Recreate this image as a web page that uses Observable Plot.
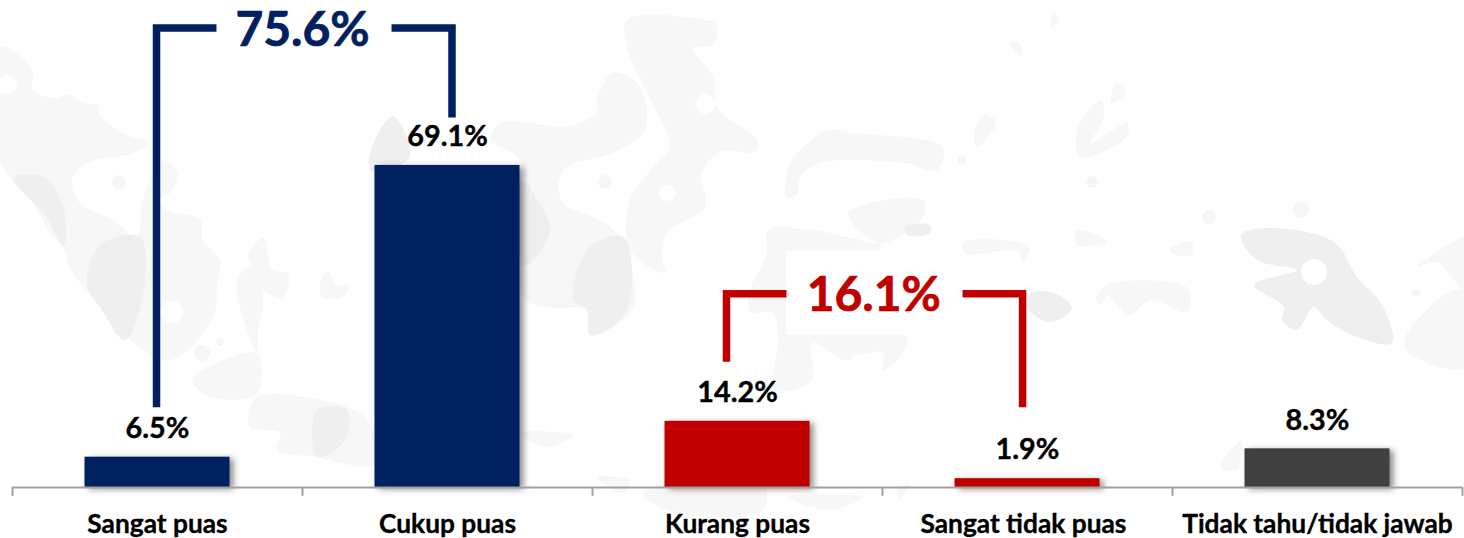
<!DOCTYPE html>
<html><head><meta charset="utf-8">
<script src="https://cdn.jsdelivr.net/npm/d3@7"></script>
<script src="https://cdn.jsdelivr.net/npm/@observablehq/plot@0.6"></script>
<style>html,body{margin:0;background:#fff}#c{position:relative;width:1464px;height:538px;overflow:hidden}
#c svg{position:absolute;left:0;top:0}</style>
</head><body><div id="c"></div>
<script>
const categories=["Sangat puas","Cukup puas","Kurang puas","Sangat tidak puas","Tidak tahu/tidak jawab"];
const values=[6.5,69.1,14.2,1.9,8.3];
const colors=["#002060","#002060","#C00000","#C00000","#404040"];
const groupLabels=["75.6%","16.1%"];
const groupColors=["#002060","#C00000"];
const rows=categories.map((c,i)=>({c,i,v:values[i],color:colors[i]}));
const font="Lato, sans-serif";

// faint decorative backdrop (map silhouette), approximated by eye; not chart data
const light=[
[[0,47],[32,70],[33,90],[53,98],[70,95],[83,103],[98,105],[100,115],[127,135],[148,142],[133,153],[87,163],[72,180],[80,203],[113,220],[137,237],[143,200],[163,160],[177,173],[173,190],[160,200],[167,210],[200,220],[203,240],[220,260],[217,283],[213,317],[170,360],[120,330],[117,320],[100,307],[87,290],[72,273],[63,247],[50,233],[33,203],[7,173],[0,160]],
[[192,380],[257,353],[257,393],[210,397]],
[[257,397],[360,413],[373,433],[373,465],[317,457],[277,450],[280,433],[250,427]],
[[238,277],[250,267],[263,297],[258,333],[257,352],[238,300]],
[[247,257],[263,238],[273,270],[288,273],[283,297],[263,290],[250,263]],
[[322,277],[328,272],[337,285],[349,285],[343,297],[322,297]],
[[627,20],[693,18],[717,25],[712,45],[693,48],[713,77],[717,107],[757,140],[755,152],[720,152],[702,173],[705,207],[667,233],[662,257],[665,273],[630,250],[630,200],[655,165],[670,147],[647,93],[627,47]],
[[490,140],[500,123],[533,123],[563,127],[597,113],[597,100],[613,73],[637,83],[647,110],[643,133],[613,153],[567,167],[558,183],[565,205],[600,220],[620,237],[632,270],[632,310],[590,335],[587,310],[552,308],[523,297],[520,160]],
[[768,230],[813,230],[873,243],[880,243],[850,360],[812,343],[812,380],[775,390],[778,340],[773,313],[750,312],[750,290],[767,253]],
[[787,197],[790,163],[808,143],[827,130],[853,133],[943,147],[937,170],[903,163],[820,163],[800,177],[797,195]],
[[848,213],[923,200],[923,217],[880,243]],
[[852,325],[905,328],[903,353],[883,370],[883,353],[853,353]],
[[1077,230],[1107,242],[1077,245]],
[[964,242],[1029,247],[1022,262],[1019,252],[964,253]],
[[1171,248],[1192,242],[1191,255],[1172,253]],
[[1096,300],[1107,285],[1187,288],[1187,312],[1151,300],[1129,315],[1107,295],[1101,305]],
[[1081,157],[1077,130],[1101,100],[1104,117],[1091,143],[1127,123],[1127,137]],
[[1111,103],[1117,83],[1127,93]],
[[974,133],[984,115],[996,122],[977,147]],
[[1051,28],[1054,12],[1059,20]],
[[1009,43],[1019,42],[1022,57]],
[[597,477],[630,480],[623,493]],
[[643,493],[760,477],[763,510],[667,510]],
[[787,497],[863,497],[830,510]],
[[897,490],[910,483],[900,498]],
[[520,433],[573,435],[547,447]],
[[1221,467],[1241,440],[1237,470]],
[[1404,347],[1437,300],[1464,290],[1464,368]],
[[1417,267],[1451,243],[1464,238],[1464,290],[1437,262]]
];
const dark=[
[[13,178],[45,178],[64,210],[64,247],[45,215]],
[[87,285],[100,245],[140,237],[145,280],[125,340],[100,307]],
[[317,410],[347,410],[345,440],[317,457]],
[[520,180],[550,230],[523,267]],
[[573,300],[590,247],[623,237],[632,277],[623,317],[590,335],[587,310]],
[[371,171],[371,150],[393,116],[410,157]],
[[1241,235],[1271,228],[1334,242],[1357,277],[1381,303],[1392,343],[1357,337],[1327,320],[1314,307],[1297,330],[1282,320],[1284,307],[1254,285],[1297,270],[1257,260]],
[[1029,310],[1031,293],[1054,293],[1072,308],[1051,322]],
[[905,227],[930,225],[930,233],[907,235]]
];
const holes=[[172,312,11],[7,85,10],[705,104,10],[667,193,8],[1314,272,13]];
const dots=[[119,182,7],[202,353,8],[220,342,4],[605,182,7],[962,160,4],[1092,182,6],[1209,217,7],[1301,210,8],[1416,293,4]];
const host=document.getElementById("c");
const bg=d3.select(host).append("svg").attr("width",1464).attr("height",538);
const smooth=d3.line().curve(d3.curveCatmullRomClosed.alpha(.5));
light.forEach(p=>bg.append("path").attr("d",smooth(p)).attr("fill","#f7f7f7"));
dark.forEach(p=>bg.append("path").attr("d",smooth(p)).attr("fill","#efefef"));
holes.forEach(([x,y,r])=>bg.append("circle").attr("cx",x).attr("cy",y).attr("r",r).attr("fill","#fff"));
dots.forEach(([x,y,r])=>bg.append("circle").attr("cx",x).attr("cy",y).attr("r",r).attr("fill","#f6f6f6"));

// bracket paths on the chart's own scales: x in category bands, y in percent
const bracketLeftTop=[{x:.4966,y:17.2},{x:.4966,y:98.6},{x:.7034,y:98.6}];
const bracketLeftEnd=[{x:1.307,y:98.6},{x:1.5155,y:98.6},{x:1.5155,y:79.4}];
const bracketRedA=[{x:2.462,y:27},{x:2.462,y:41.6},{x:2.669,y:41.6}];
const bracketRedB=[{x:3.276,y:41.6},{x:3.483,y:41.6},{x:3.483,y:17.2}];
const groupPos=[{x:1,y:98,t:groupLabels[0],c:groupColors[0]},{x:2.97,y:41.2,t:groupLabels[1],c:groupColors[1]}];
const bracket=(d,c)=>Plot.line(d,{x:"x",y:"y",stroke:c,strokeWidth:7.5});
const labelTicks=[.5,1.5,2.5,3.486,4.5];

const chart=Plot.plot({width:1464,height:538,marginLeft:12,marginRight:2,marginTop:0,marginBottom:51,
 style:{background:"transparent",fontFamily:font},
 x:{domain:[0,5]},y:{domain:[0,104.5],axis:null},
 marks:[
  Plot.rect([{}],{x1:()=>2.669,x2:()=>3.276,y1:()=>32.6,y2:()=>50.6,fill:"#fff"}),
  Plot.rectY(rows,{x1:d=>d.i+.25,x2:d=>d.i+.75,y:"v",fill:"color"}),
  Plot.ruleY([0],{stroke:"#a0a0a0",strokeWidth:2}),
  Plot.ruleX([0,1,2,3,4,5],{x:d=>d,y1:0,y2:-1.9,stroke:"#a0a0a0",strokeWidth:2}),
  bracket(bracketLeftTop,groupColors[0]),bracket(bracketLeftEnd,groupColors[0]),
  bracket(bracketRedA,groupColors[1]),bracket(bracketRedB,groupColors[1]),
  Plot.text(rows,{x:d=>d.i+.5,y:"v",text:d=>d.v.toFixed(1)+"%",dy:-28.5,fontSize:28.8,fontWeight:700,fill:"#000",stroke:"#000",strokeWidth:.4}),
  Plot.text(groupPos,{x:"x",y:"y",text:"t",fill:"c",stroke:"c",strokeWidth:.7,fontSize:48,fontWeight:700}),
  Plot.axisX({ticks:labelTicks,tickFormat:d=>categories[labelTicks.indexOf(d)],tickSize:0,tickPadding:27,label:null,fontSize:26.3,fontWeight:700,fill:"#000"})
 ]});
const root=d3.select(chart);
root.selectAll('g[aria-label="rect"]').filter((d,i)=>i===1).style("filter","drop-shadow(4px 2px 3px rgba(0,0,0,.45))");
root.selectAll('g[aria-label="line"], g[aria-label="line"] path').style("stroke-linecap","butt").style("stroke-linejoin","miter").style("stroke-miterlimit",4);
root.selectAll('g[aria-label="x-axis tick label"] text').style("stroke","#000").style("stroke-width",.35);
host.append(chart);
</script></body></html>
